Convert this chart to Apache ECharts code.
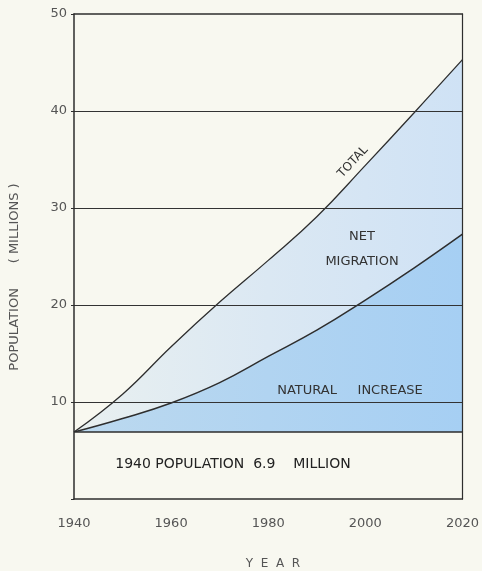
<!DOCTYPE html>
<html>
<head>
<meta charset="utf-8">
<style>
  html, body { margin: 0; padding: 0; background: #f8f8f0; }
  #chart { width: 482px; height: 571px; }
</style>
<script src="https://cdn.jsdelivr.net/npm/echarts@6/dist/echarts.min.js"></script>
</head>
<body>
<div id="chart"></div>
<script>
// ---- data ----
var years        = [1940, 1950, 1960, 1970, 1980, 1990, 2000, 2010, 2020];
var totalPop     = [6.9, 10.8, 15.7, 20.3, 24.6, 29.1, 34.4, 39.8, 45.3];
var naturalPop   = [6.9, 8.3, 9.9, 12.0, 14.7, 17.4, 20.5, 23.8, 27.3];
var basePop      = [6.9, 6.9, 6.9, 6.9, 6.9, 6.9, 6.9, 6.9, 6.9];
var yTicks       = [10, 20, 30, 40];
var xTickLabels  = ['1940', '1960', '1980', '2000', '2020'];

function pairs(vals) { return years.map(function (y, i) { return [y, vals[i]]; }); }

var FONT = 'DejaVu Sans';
var INK = '#2e2e2e';

var chart = echarts.init(document.getElementById('chart'), null, { renderer: 'canvas' });

var option = {
  backgroundColor: '#f8f8f0',
  animation: false,
  grid: { left: 74, right: 19, top: 14, bottom: 72, containLabel: false },
  xAxis: [{
    type: 'value', min: 1940, max: 2020, interval: 20, z: 10,
    axisLine: { show: true, lineStyle: { color: INK, width: 1.5 } },
    axisTick: { show: false },
    splitLine: { show: false },
    axisLabel: { margin: 18, color: '#555', fontFamily: FONT, fontSize: 13,
      formatter: function (v) { return xTickLabels.indexOf(String(v)) >= 0 ? String(v) : ''; } }
  }, {
    type: 'value', min: 1940, max: 2020, position: 'top', z: 10,
    axisLine: { show: true, onZero: false, lineStyle: { color: INK, width: 1.5 } },
    axisTick: { show: false }, axisLabel: { show: false }, splitLine: { show: false }
  }],
  yAxis: [{
    type: 'value', min: 0, max: 50, interval: 10, z: 10,
    axisLine: { show: true, lineStyle: { color: INK, width: 1.5 } },
    axisTick: { show: true, length: 3, lineStyle: { color: INK } },
    splitLine: { show: false },
    axisLabel: { margin: 7, color: '#555', fontFamily: FONT, fontSize: 13,
      formatter: function (v) { return v === 0 ? '' : String(v); } }
  }, {
    type: 'value', min: 0, max: 50, position: 'right', z: 10,
    axisLine: { show: true, onZero: false, lineStyle: { color: INK, width: 1.2 } },
    axisTick: { show: false }, axisLabel: { show: false }, splitLine: { show: false }
  }],
  series: [{
    name: 'Total', type: 'line', data: pairs(totalPop), smooth: 0.45,
    showSymbol: false, z: 2,
    lineStyle: { color: INK, width: 1.3 },
    areaStyle: { opacity: 1, color: new echarts.graphic.LinearGradient(0, 0, 1, 0, [
      { offset: 0, color: '#e9f0f0' }, { offset: 0.5, color: '#dbe8f3' }, { offset: 1, color: '#cfe2f5' }]) }
  }, {
    name: 'Natural increase', type: 'line', data: pairs(naturalPop), smooth: 0.45,
    showSymbol: false, z: 3,
    lineStyle: { color: INK, width: 1.5 },
    areaStyle: { opacity: 1, color: new echarts.graphic.LinearGradient(0, 0, 1, 0, [
      { offset: 0, color: '#bcd9ef' }, { offset: 1, color: '#a6cff3' }]) }
  }, {
    name: '1940 population', type: 'line', data: pairs(basePop),
    showSymbol: false, z: 4,
    lineStyle: { color: INK, width: 1.5 },
    areaStyle: { opacity: 1, color: '#f8f8f0' },
    markLine: {
      silent: true, symbol: 'none', z: 5,
      label: { show: false },
      lineStyle: { color: '#333', width: 1.1, type: 'solid' },
      data: yTicks.map(function (t) { return { yAxis: t }; })
    }
  }],
  graphic: [
    { type: 'text', z: 20, x: 15, y: 277, rotation: Math.PI / 2,
      style: { text: 'POPULATION      ( MILLIONS )', fill: '#555', font: '13px "DejaVu Sans"',
        align: 'center', verticalAlign: 'middle' } },
    { type: 'text', z: 20, x: 273, y: 564,
      style: { text: 'Y  E  A  R', fill: '#555', font: '12px "DejaVu Sans"',
        align: 'center', verticalAlign: 'middle' } },
    { type: 'text', z: 20, x: 353, y: 162, rotation: 47 * Math.PI / 180,
      style: { text: 'TOTAL', fill: '#333', font: '12px "DejaVu Sans"',
        align: 'center', verticalAlign: 'middle' } },
    { type: 'text', z: 20, x: 362, y: 237,
      style: { text: 'NET', fill: '#333', font: '13px "DejaVu Sans"',
        align: 'center', verticalAlign: 'middle' } },
    { type: 'text', z: 20, x: 362, y: 262,
      style: { text: 'MIGRATION', fill: '#333', font: '13px "DejaVu Sans"',
        align: 'center', verticalAlign: 'middle' } },
    { type: 'text', z: 20, x: 350, y: 391,
      style: { text: 'NATURAL     INCREASE', fill: '#333', font: '13px "DejaVu Sans"',
        align: 'center', verticalAlign: 'middle' } },
    { type: 'text', z: 20, x: 233, y: 464,
      style: { text: '1940 POPULATION  6.9    MILLION', fill: '#222', font: '14px "DejaVu Sans"',
        align: 'center', verticalAlign: 'middle' } }
  ]
};
chart.setOption(option);
</script>
</body>
</html>
